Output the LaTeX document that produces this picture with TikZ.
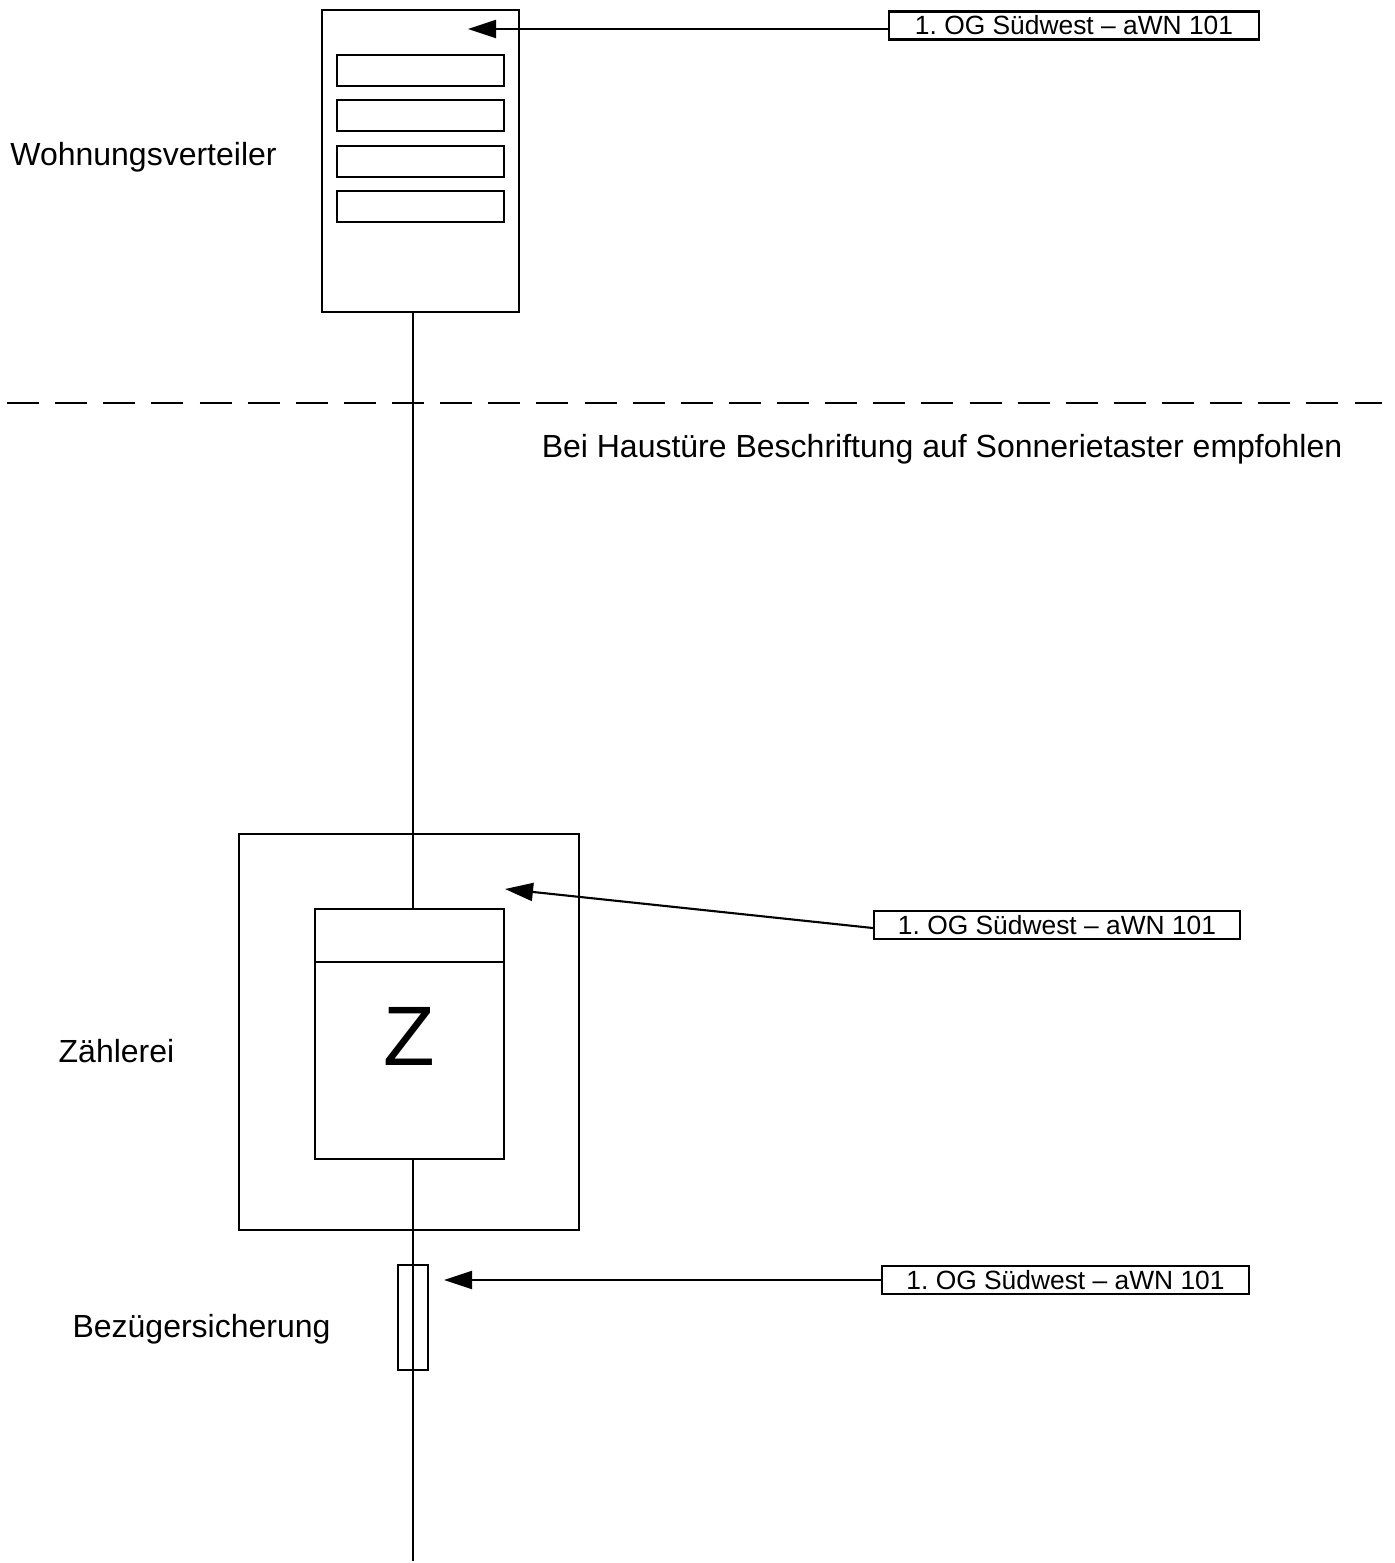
\documentclass[tikz,border=0pt]{standalone}
\usepackage{fontspec}
\setmainfont{Liberation Sans}
\usetikzlibrary{arrows.meta}
\frenchspacing
\tikzset{
  box/.style={draw, line width=.6pt, inner sep=0pt, fill=white},
  schild/.style={box, minimum width=3.68cm, minimum height=.28cm, font=\fontsize{7.5pt}{9pt}\selectfont},
  titel/.style={font=\fontsize{9.1pt}{11pt}\selectfont, inner sep=0pt},
  leitung/.style={line width=.6pt},
  pfeil/.style={line width=.6pt, -{Triangle[length=.28cm,width=.18cm]}}
}
\begin{document}
\begin{tikzpicture}[x=.01cm, y=-.01cm]
\useasboundingbox (0,0) rectangle (1395,1563);
% trennlinie
\coordinate (tl) at (7,403);
\coordinate (tr) at (1382,403);
\draw[leitung, dash pattern=on .32cm off .161cm] (tl) -- (tr);

% verteiler
\node[box, minimum width=1.97cm, minimum height=3.02cm] (wv) at (420.5,161) {};
\node[box, minimum width=1.67cm, minimum height=.31cm] (wv1) at (420.5,70.5) {};
\node[box, minimum width=1.67cm, minimum height=.31cm] (wv2) at (420.5,115.5) {};
\node[box, minimum width=1.67cm, minimum height=.31cm] (wv3) at (420.5,161.3) {};
\node[box, minimum width=1.67cm, minimum height=.31cm] (wv4) at (420.5,206.5) {};

% zaehler
\node[box, minimum width=3.40cm, minimum height=3.96cm] (zk) at (409,1032) {};
\node[box, minimum width=1.89cm, minimum height=2.50cm] (zz) at (409.5,1034) {};
\coordinate (zl) at (zz.west |- 0,962);
\coordinate (zr) at (zz.east |- 0,962);
\draw[leitung] (zl) -- (zr);
\node[font=\fontsize{24pt}{28pt}\selectfont, inner sep=0pt] (zn) at (409.5,1036) {Z};

% sicherung
\coordinate (ende) at (413,1561);
\draw[leitung] (413,1159) -- (ende);
\node[draw, line width=.5pt, inner sep=0pt, minimum width=.30cm, minimum height=1.05cm] (si) at (413,1317.5) {};

% leitung
\draw[leitung] (wv.south -| si) -- (zz.north -| si);

% beschriftung
\node[titel] (t1) at (143.5,157) {Wohnungsverteiler};
\node[titel] (t2) at (116.5,1051) {Zählerei};
\node[titel] (t3) at (201.5,1329) {Bezügersicherung};
\node[titel] (t4) at (942,449) {Bei Haustüre Beschriftung auf Sonnerietaster empfohlen};

% schilder
\node[schild, minimum width=3.70cm] (s1) at (1074,25.5) {1. OG Südwest -- aWN 101};
\node[schild, minimum width=3.66cm] (s2) at (1057,925) {1. OG Südwest -- aWN 101};
\node[schild, minimum width=3.67cm] (s3) at (1065.5,1280) {1. OG Südwest -- aWN 101};
\coordinate (p1) at (468,29);
\coordinate (p2) at (505,889);
\coordinate (p3) at (444,1280);
\draw[pfeil] (s1.west |- p1) -- (p1);
\draw[pfeil] (s2.west |- 0,928) -- (p2);
\draw[pfeil] (s3.west) -- (p3);
\end{tikzpicture}
\end{document}
